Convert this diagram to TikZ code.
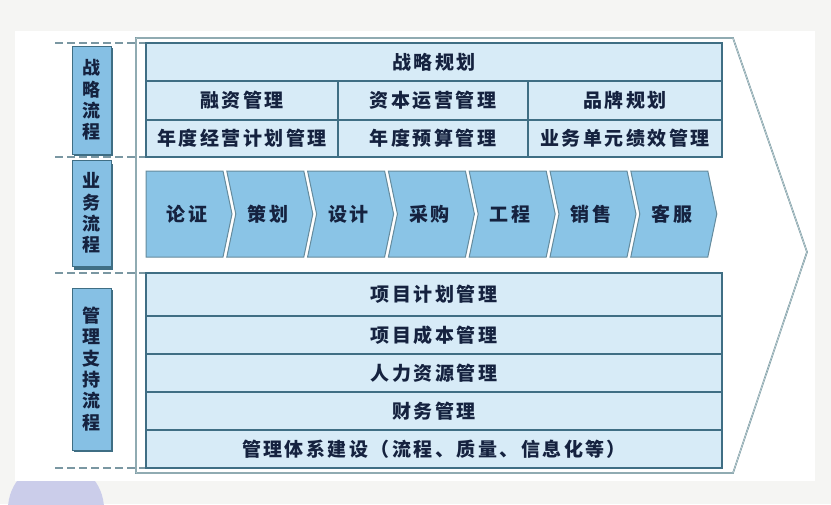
\documentclass[tikz,border=0pt]{standalone}
\usepackage{fontspec}
\newfontfamily\cjk[LetterSpace=13]{Noto Sans CJK SC}
\newfontfamily\cjkv{Noto Sans CJK SC}
\definecolor{bgC}{HTML}{F5F5F3}
\definecolor{circC}{HTML}{CBCDEA}
\definecolor{outerC}{HTML}{6F929C}
\definecolor{lineC}{HTML}{3F6E84}
\definecolor{lightC}{HTML}{D7EBF7}
\definecolor{chevC}{HTML}{8AC4E6}
\definecolor{labC}{HTML}{86C0E4}
\definecolor{txtC}{HTML}{15223F}
\definecolor{dashC}{HTML}{7A97A2}
\begin{document}
\begin{tikzpicture}[x=1pt,y=-1pt,
  cell/.style={draw=lineC, fill=lightC, line width=1.2pt, inner sep=0pt,
    font=\cjk\bfseries\fontsize{19}{22}\selectfont, text=txtC},
  chev/.style={draw=lineC!80, fill=chevC, line width=1pt},
  chevtext/.style={font=\cjk\bfseries\fontsize{19}{22}\selectfont, text=txtC, inner sep=0pt},
  lab/.style={draw=lineC, fill=labC, line width=1pt, inner sep=0pt, minimum width=39pt,
    text width=39pt, align=center, font=\cjkv\bfseries\fontsize{18}{21.3}\selectfont, text=txtC},
  sepline/.style={draw=dashC, line width=1.4pt, dash pattern=on 8pt off 4pt}
]
\useasboundingbox (0,0) rectangle (831,504);
\fill[bgC] (0,0) rectangle (831,504);
\fill[circC] (56,509) circle (48);
\fill[white] (15,31) rectangle (815,481);

% outer arrow
\draw[outerC, line width=1.6pt, fill=white] (136,38) -- (733,38) -- (807,252) -- (733,473) -- (136,473) -- cycle;
\draw[outerC!35, line width=0.6pt] (136,38) -- (733,38) -- (807,252) -- (733,473) -- (136,473) -- cycle;

% dashed separators
\coordinate (d1a) at (55,43);  \coordinate (d1b) at (146,43);
\coordinate (d2a) at (55,157); \coordinate (d2b) at (146,157);
\coordinate (d3a) at (55,273); \coordinate (d3b) at (146,273);
\coordinate (d4a) at (55,468); \coordinate (d4b) at (146,468);
\draw[sepline] (d1a) -- (d1b);
\draw[sepline] (d2a) -- (d2b);
\draw[sepline] (d3a) -- (d3b);
\draw[sepline] (d4a) -- (d4b);

% left labels (with shadow)
\fill[lineC] (74,48) rectangle (113,156);
\node[lab, minimum height=108pt] (l1) at (91.5,100) {战\\略\\流\\程};
\fill[lineC] (74,164) rectangle (113,270);
\node[lab, minimum height=106pt] (l2) at (91.5,213) {业\\务\\流\\程};
\fill[lineC] (74,290) rectangle (113,452);
\node[lab, minimum height=162pt] (l3) at (91.5,369) {管\\理\\支\\持\\流\\程};

% top table
\node[cell, minimum width=576pt, minimum height=38pt] (s0) at (434,62) {战略规划};
\node[cell, minimum width=192pt, minimum height=39pt] (s1) at (242,100.5) {融资管理};
\node[cell, minimum width=190pt, minimum height=39pt] (s2) at (433,100.5) {资本运营管理};
\node[cell, minimum width=194pt, minimum height=39pt] (s3) at (625,100.5) {品牌规划};
\node[cell, minimum width=192pt, minimum height=37pt] (s4) at (242,138.5) {年度经营计划管理};
\node[cell, minimum width=190pt, minimum height=37pt] (s5) at (433,138.5) {年度预算管理};
\node[cell, minimum width=194pt, minimum height=37pt] (s6) at (625,138.5) {业务单元绩效管理};

% process chevrons
\foreach \i/\t in {0/论证,1/策划,2/设计,3/采购,4/工程,5/销售,6/客服} {
  \pgfmathsetmacro\xo{146+80.8*\i}
  \pgfmathsetmacro\dd{\i==0 ? 0 : 9}
  \draw[chev] (\xo,171) -- (\xo+77,171) -- (\xo+86,214) -- (\xo+77,257) -- (\xo,257) -- (\xo+\dd,214) -- cycle;
  \node[chevtext] (p\i) at (\xo+41,214) {\t};
}

% bottom table
\node[cell, minimum width=576pt, minimum height=43pt] (m1) at (434,294.5) {项目计划管理};
\node[cell, minimum width=576pt, minimum height=38pt] (m2) at (434,335) {项目成本管理};
\node[cell, minimum width=576pt, minimum height=38pt] (m3) at (434,373) {人力资源管理};
\node[cell, minimum width=576pt, minimum height=38pt] (m4) at (434,411) {财务管理};
\node[cell, minimum width=576pt, minimum height=38pt] (m5) at (434,449) {管理体系建设（流程、质量、信息化等）};
\end{tikzpicture}
\end{document}
